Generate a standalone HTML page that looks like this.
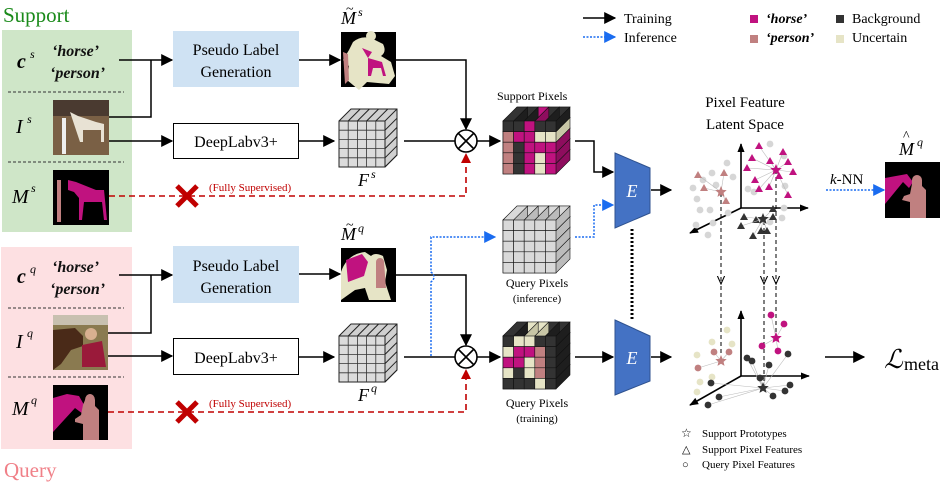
<!DOCTYPE html>
<html><head><meta charset="utf-8">
<style>
html,body{margin:0;padding:0;background:#fff;}
svg{display:block;font-family:"Liberation Serif",serif;}
</style></head>
<body>
<svg id="s" width="951" height="484" viewBox="0 0 951 484" xmlns="http://www.w3.org/2000/svg">
<defs>
<marker id="ah" viewBox="0 0 10 10" refX="9" refY="5" markerWidth="7" markerHeight="7" orient="auto" markerUnits="userSpaceOnUse"><path d="M0,0 L10,5 L0,10z" fill="#000"/></marker>
<marker id="ah" viewBox="0 0 10 10" refX="9" refY="5" markerWidth="7" markerHeight="7" orient="auto"><path d="M0,0 L10,5 L0,10z" fill="#000"/></marker>
<marker id="ahk" viewBox="0 0 10 10" refX="9" refY="5" markerWidth="12" markerHeight="12" orient="auto" markerUnits="userSpaceOnUse"><path d="M0,0 L10,5 L0,10z" fill="#000"/></marker>
<marker id="ahb" viewBox="0 0 10 10" refX="9" refY="5" markerWidth="12" markerHeight="12" orient="auto" markerUnits="userSpaceOnUse"><path d="M0,0 L10,5 L0,10z" fill="#1a6cf0"/></marker>
<marker id="ahr" viewBox="0 0 10 10" refX="9" refY="5" markerWidth="10" markerHeight="10" orient="auto" markerUnits="userSpaceOnUse"><path d="M0,0 L10,5 L0,10z" fill="#c00000"/></marker>
<marker id="aho" viewBox="0 0 10 10" refX="9" refY="5" markerWidth="9" markerHeight="9" orient="auto" markerUnits="userSpaceOnUse"><path d="M0,1 L9,5 L0,9" fill="none" stroke="#000" stroke-width="1.2"/></marker>
<marker id="ax" viewBox="0 0 10 10" refX="9" refY="5" markerWidth="9" markerHeight="9" orient="auto" markerUnits="userSpaceOnUse"><path d="M0,1 L10,5 L0,9z" fill="#000"/></marker>
</defs>

<!-- Panels -->
<text x="3" y="22" font-size="21" fill="#1a8a1a">Support</text>
<rect x="2" y="30" width="130" height="202" fill="#cfe6c8"/>
<rect x="1" y="247" width="131" height="202" fill="#fde0e2"/>
<text x="4" y="477" font-size="21" fill="#f08088">Query</text>

<!-- Support panel content -->
<text x="17" y="68" font-size="20" font-weight="bold" font-style="italic">c</text><text x="30" y="58" font-size="12" font-style="italic">s</text>
<text x="52" y="56" font-size="16" font-weight="bold" font-style="italic" fill="#111">‘horse’</text>
<text x="50" y="78" font-size="16" font-weight="bold" font-style="italic" fill="#111">‘person’</text>
<line x1="8" y1="92" x2="124" y2="92" stroke="#333" stroke-dasharray="3,2"/>
<text x="16" y="133" font-size="20" font-style="italic">I</text><text x="27" y="123" font-size="12" font-style="italic">s</text>
<rect x="53" y="100" width="56" height="55" fill="#7a6045"/>
<rect x="53" y="100" width="56" height="16" fill="#4a3a30"/>
<path d="M62,118 h4 v36 h-4z" fill="#eee"/>
<path d="M70,112 l8,4 l18,6 l8,2 v18 h-3 v-12 h-18 v12 h-3z" fill="#e8e2d4"/>
<line x1="8" y1="162" x2="124" y2="162" stroke="#333" stroke-dasharray="3,2"/>
<text x="12" y="203" font-size="20" font-style="italic">M</text><text x="31" y="192" font-size="12" font-style="italic">s</text>
<rect x="53" y="170" width="56" height="55" fill="#000"/>
<rect x="57" y="180" width="4" height="42" fill="#c08080"/>
<path d="M68,180 l8,2 l20,8 l8,0 l3,30 h-3 l-2,-18 h-18 l-2,18 h-3 l0,-22 l-5,-6 l-6,-2z" fill="#c0127f"/>

<!-- Query panel content -->
<text x="17" y="283" font-size="20" font-weight="bold" font-style="italic">c</text><text x="30" y="273" font-size="12" font-style="italic">q</text>
<text x="52" y="272" font-size="16" font-weight="bold" font-style="italic" fill="#111">‘horse’</text>
<text x="50" y="294" font-size="16" font-weight="bold" font-style="italic" fill="#111">‘person’</text>
<line x1="8" y1="308" x2="124" y2="308" stroke="#333" stroke-dasharray="3,2"/>
<text x="16" y="348" font-size="20" font-style="italic">I</text><text x="27" y="337" font-size="12" font-style="italic">q</text>
<rect x="53" y="315" width="55" height="55" fill="#8a7a50"/>
<rect x="53" y="315" width="55" height="10" fill="#c8c0b0"/>
<path d="M53,330 l22,-2 l8,8 v10 l-12,4 l-10,14 l-8,6z" fill="#4a2a18"/>
<path d="M85,334 a6,6 0 1 1 12,0 a6,6 0 1 1 -12,0z" fill="#d8b090"/>
<path d="M82,345 l20,-4 l4,26 h-24z" fill="#9a1a3a"/>
<line x1="8" y1="377" x2="124" y2="377" stroke="#333" stroke-dasharray="3,2"/>
<text x="12" y="415" font-size="20" font-style="italic">M</text><text x="31" y="404" font-size="12" font-style="italic">q</text>
<rect x="53" y="385" width="55" height="55" fill="#000"/>
<path d="M53,398 l14,-4 l12,2 l8,14 l-4,4 l-8,-6 l-22,24z" fill="#c0127f"/>
<path d="M85,400 a5,6 0 1 1 10,0 l0,6 l4,4 v30 h-16 v-16 l-8,-2 l0,-3 l6,-4 l2,-10z" fill="#c08080"/>

<!-- Boxes -->
<rect x="173" y="31" width="126" height="56" fill="#cfe2f3"/>
<text x="236" y="55" font-size="16" text-anchor="middle">Pseudo Label</text>
<text x="236" y="77" font-size="16" text-anchor="middle">Generation</text>
<rect x="173.5" y="123.5" width="125" height="35" fill="#fff" stroke="#000"/>
<text x="236" y="147" font-size="16" text-anchor="middle">DeepLabv3+</text>
<rect x="173" y="246" width="126" height="57" fill="#cfe2f3"/>
<text x="236" y="271" font-size="16" text-anchor="middle">Pseudo Label</text>
<text x="236" y="293" font-size="16" text-anchor="middle">Generation</text>
<rect x="173.5" y="338.5" width="125" height="36" fill="#fff" stroke="#000"/>
<text x="236" y="363" font-size="16" text-anchor="middle">DeepLabv3+</text>

<!-- Support arrows -->
<g stroke="#000" stroke-width="1.5" fill="none">
<path d="M119,60 H172" marker-end="url(#ahk)"/>
<path d="M109,117 H151 V60"/>
<path d="M109,141 H172" marker-end="url(#ahk)"/>
<path d="M299,60 H340" marker-end="url(#ahk)"/>
<path d="M299,141 H334" marker-end="url(#ahk)"/>
<path d="M396,60 H466 V129" marker-end="url(#ahk)"/>
<path d="M404,141 H455"/>
<path d="M477,141 H500" marker-end="url(#ahk)"/>
<path d="M119,275 H172" marker-end="url(#ahk)"/>
<path d="M108,333 H151 V275"/>
<path d="M108,356 H172" marker-end="url(#ahk)"/>
<path d="M299,274 H340" marker-end="url(#ahk)"/>
<path d="M299,357 H334" marker-end="url(#ahk)"/>
<path d="M396,275 H466 V345" marker-end="url(#ahk)"/>
<path d="M404,357 H455"/>
<path d="M477,357 H500" marker-end="url(#ahk)"/>
<path d="M575,141 H594 V172 H613" marker-end="url(#ahk)"/>
<path d="M575,357 H613" marker-end="url(#ahk)"/>
<path d="M651,190 H671" marker-end="url(#ahk)"/>
<path d="M651,357 H671" marker-end="url(#ahk)"/>
<path d="M825,357 H864" marker-end="url(#ahk)"/>
</g>
<!-- otimes -->
<g stroke="#000" stroke-width="1.6" fill="#fff">
<circle cx="466" cy="141" r="11"/><circle cx="466" cy="357" r="11"/>
<path d="M458,133 L474,149 M474,133 L458,149 M458,349 L474,365 M474,349 L458,365"/>
</g>
<!-- red dashed -->
<g stroke="#c00000" stroke-width="1.6" fill="none" stroke-dasharray="6,4">
<path d="M109,196 H466 V154" marker-end="url(#ahr)"/>
<path d="M108,412 H466 V370" marker-end="url(#ahr)"/>
</g>
<g stroke="#c00000" stroke-width="5">
<path d="M177,186 L197,206 M197,186 L177,206"/>
<path d="M177,402 L197,422 M197,402 L177,422"/>
</g>
<text x="209" y="191" font-size="11" fill="#c00000">(Fully Supervised)</text>
<text x="209" y="407" font-size="11" fill="#c00000">(Fully Supervised)</text>

<!-- blue dotted -->
<g stroke="#1a6cf0" stroke-width="1.5" fill="none" stroke-dasharray="2,1.5">
<path d="M431,356 V282 Q437,277 431,272 V237 H495" marker-end="url(#ahb)"/>
<path d="M575,237 H594 V205 H613" marker-end="url(#ahb)"/>
<path d="M826,190 H884" marker-end="url(#ahb)"/>
<path d="M583,37 H615" marker-end="url(#ahb)"/>
</g>
<path d="M583,18 H615" stroke="#000" stroke-width="1.5" marker-end="url(#ahk)"/>
<text x="624" y="23" font-size="14">Training</text>
<text x="624" y="42" font-size="14">Inference</text>
<rect x="750" y="15" width="8" height="8" fill="#c0127f"/>
<text x="766" y="23" font-size="14" font-style="italic" font-weight="bold">‘horse’</text>
<rect x="750" y="35" width="8" height="8" fill="#c08080"/>
<text x="766" y="42" font-size="14" font-style="italic" font-weight="bold">‘person’</text>
<rect x="836" y="15" width="8" height="8" fill="#333"/>
<text x="852" y="23" font-size="14">Background</text>
<rect x="836" y="35" width="8" height="8" fill="#e6e4c6"/>
<text x="852" y="42" font-size="14">Uncertain</text>

<!-- mask images -->
<rect x="341" y="32" width="55" height="55" fill="#000"/>
<path d="M353,42 q10,-8 22,-2 l8,4 q4,8 -2,12 l10,6 l4,14 l-6,8 l-22,-2 l-8,8 l-12,-10 l2,-14 l-6,-6 l6,-10z" fill="#e6e4c6"/>
<path d="M366,36 a5,5 0 1 1 10,0 a5,5 0 1 1 -10,0z" fill="#e6e4c6"/>
<path d="M343,52 l5,2 l1,26 l-4,4z" fill="#c08080"/>
<path d="M362,48 l10,4 l-4,6z M368,58 l14,4 l4,14 h-3 l-2,-8 h-8 l-2,8 h-3z" fill="#c0127f"/>
<rect x="341" y="248" width="55" height="54" fill="#000"/>
<path d="M341,272 q6,-18 24,-20 l6,4 q4,-4 12,0 l4,14 l-2,12 l6,18 h-22 l-4,-12 l-10,2 l-14,10z" fill="#e6e4c6"/>
<path d="M346,260 l16,-6 l6,8 l-4,14 l-16,6z" fill="#c0127f"/>
<path d="M376,262 a4,4 0 1 1 8,0 l2,26 h-10z" fill="#c08080"/>
<rect x="885" y="162" width="55" height="56" fill="#000"/>
<path d="M885,178 l22,-4 l6,8 l-4,6 l-6,-6 l-18,22z" fill="#c0127f"/>
<path d="M912,180 a5,5 0 1 1 10,0 l0,6 l4,4 v28 h-16 v-16 l-8,-2 l2,-4 l6,-2 l2,-10z" fill="#c08080"/>

<!-- labels -->
<text x="341" y="24" font-size="18" font-style="italic">M</text><text x="358" y="16" font-size="12" font-style="italic">s</text><text x="346" y="13" font-size="14">~</text>
<text x="341" y="240" font-size="18" font-style="italic">M</text><text x="358" y="232" font-size="12" font-style="italic">q</text><text x="346" y="229" font-size="14">~</text>
<text x="358" y="186" font-size="18" font-style="italic">F</text><text x="371" y="178" font-size="12" font-style="italic">s</text>
<text x="358" y="401" font-size="18" font-style="italic">F</text><text x="371" y="392" font-size="12" font-style="italic">q</text>
<text x="899" y="155" font-size="18" font-style="italic">M</text><text x="917" y="146" font-size="12" font-style="italic">q</text><text x="903" y="140" font-size="14">^</text>
<text x="830" y="184" font-size="15"><tspan font-style="italic">k</tspan>-NN</text>
<text x="497" y="100" font-size="12">Support Pixels</text>
<text x="537" y="287" font-size="12" text-anchor="middle">Query Pixels</text>
<text x="537" y="302" font-size="11" text-anchor="middle">(inference)</text>
<text x="537" y="407" font-size="12" text-anchor="middle">Query Pixels</text>
<text x="537" y="422" font-size="11" text-anchor="middle">(training)</text>
<text x="745" y="107" font-size="15" text-anchor="middle">Pixel Feature</text>
<text x="745" y="129" font-size="15" text-anchor="middle">Latent Space</text>
<text x="884" y="368" font-size="26" font-style="italic">ℒ</text><text x="904" y="370" font-size="18">meta</text>

<!-- E blocks -->
<path d="M615,153 L650,168 V213 L615,228z" fill="#4472c4" stroke="#2f528f"/>
<path d="M615,320 L650,336 V381 L615,395z" fill="#4472c4" stroke="#2f528f"/>
<text x="632" y="197" font-size="18" font-style="italic" fill="#fff" text-anchor="middle">E</text>
<text x="632" y="364" font-size="18" font-style="italic" fill="#fff" text-anchor="middle">E</text>
<line x1="632" y1="229" x2="632" y2="320" stroke="#000" stroke-width="3" stroke-dasharray="2,2"/>

<!-- axes -->
<g stroke="#000" stroke-width="1.6">
<path d="M741,208 V144" marker-end="url(#ax)"/><path d="M741,208 H808" marker-end="url(#ax)"/><path d="M741,208 L690,233" marker-end="url(#ax)"/>
<path d="M741,376 V311" marker-end="url(#ax)"/><path d="M741,376 H809" marker-end="url(#ax)"/><path d="M741,376 L690,405" marker-end="url(#ax)"/>
</g>
<g stroke="#000" stroke-width="1" stroke-dasharray="4,3" fill="none">
<path d="M721,193 V284" marker-end="url(#aho)"/><path d="M721,286 V358"/>
<path d="M764,221 V284" marker-end="url(#aho)"/><path d="M764,286 V386"/>
<path d="M776,170 V284" marker-end="url(#aho)"/><path d="M776,286 V336"/>
</g>
<g id="pts"></g>
<g id="cubes"></g>

<!-- bottom legend -->
<text x="681" y="437" font-size="12">☆</text><text x="702" y="437" font-size="11">Support Prototypes</text>
<text x="682" y="453" font-size="11">△</text><text x="702" y="453" font-size="11">Support Pixel Features</text>
<text x="682" y="468" font-size="11">○</text><text x="702" y="468" font-size="11">Query Pixel Features</text>
</svg>
<script>
var NS="http://www.w3.org/2000/svg";
function el(p,t,a){var e=document.createElementNS(NS,t);for(var k in a)e.setAttribute(k,a[k]);p.appendChild(e);return e;}
var C={b:"#333333",h:"#c0127f",p:"#c08080",u:"#e6e4c6",g:"#d9d9d9"};
var D={b:"#1e1e1e",h:"#8e0d5e",p:"#9a6060",u:"#c8c6a6",g:"#bbbbbb"};
var cg=document.getElementById("cubes");
function cube(x0,y0,rows,cs,d){
  // extrusions
  for(var r=rows.length-1;r>=0;r--)for(var c=rows[r].length-1;c>=0;c--){
    var k=rows[r][c],x=x0+c*cs,y=y0+r*cs;
    el(cg,"polygon",{points:[x,y,x+d,y-d,x+cs+d,y-d,x+cs+d,y+cs-d,x+cs,y+cs,x,y+cs].join(","),fill:D[k],stroke:"#111","stroke-width":0.6});
    el(cg,"polygon",{points:[x,y,x+d,y-d,x+cs+d,y-d,x+cs,y].join(","),fill:C[k],stroke:"#111","stroke-width":0.6});
  }
  for(var r=0;r<rows.length;r++)for(var c=0;c<rows[r].length;c++){
    var k=rows[r][c];el(cg,"rect",{x:x0+c*cs,y:y0+r*cs,width:cs,height:cs,fill:C[k],stroke:"#111","stroke-width":0.6});
  }
}
function flat(x0,y0,cs,d){
  el(cg,"polygon",{points:[x0,y0,x0+d,y0-d,x0+5*cs+d,y0-d,x0+5*cs+d,y0+5*cs-d,x0+5*cs,y0+5*cs,x0,y0+5*cs].join(","),fill:"#d0d0d0",stroke:"#222"});
  for(var i=1;i<=5;i++){el(cg,"line",{x1:x0+i*cs,y1:y0,x2:x0+i*cs+d,y2:y0-d,stroke:"#222"});el(cg,"line",{x1:x0+5*cs,y1:y0+i*cs,x2:x0+5*cs+d,y2:y0+i*cs-d,stroke:"#222"});}
  el(cg,"rect",{x:x0,y:y0,width:5*cs,height:5*cs,fill:"#dcdcdc",stroke:"#222"});
  for(var i=1;i<5;i++){el(cg,"line",{x1:x0+i*cs,y1:y0,x2:x0+i*cs,y2:y0+5*cs,stroke:"#333","stroke-width":0.8});el(cg,"line",{x1:x0,y1:y0+i*cs,x2:x0+5*cs,y2:y0+i*cs,stroke:"#333","stroke-width":0.8});}
}
flat(339,121,9.2,12);flat(339,336,9.2,12);
cube(503,121,["bbhbb","phhuu","pbhhh","pbhuh","pbhuh"],10.6,14);
cube(503,220,["ggggg","ggggg","ggggg","ggggg","ggggg"],10.6,14);
cube(503,336,["buubb","uhhpb","hhupb","ubupb","bbbub"],10.6,14);
var pg=document.getElementById("pts");
function star(x,y,r,f){var p=[];for(var i=0;i<10;i++){var a=-Math.PI/2+i*Math.PI/5,rr=i%2?r*0.45:r;p.push(x+rr*Math.cos(a),y+rr*Math.sin(a));}el(pg,"polygon",{points:p.join(","),fill:f});}
function line(a,b,c,d){el(pg,"line",{x1:a,y1:b,x2:c,y2:d,stroke:"#bbb","stroke-width":0.6});}
function tri(x,y,f){el(pg,"polygon",{points:[x,y-4,x+4,y+3,x-4,y+3].join(","),fill:f});}
function dot(x,y,f){el(pg,"circle",{cx:x,cy:y,r:3.4,fill:f});}
var G="#d6d6d6";
[[727,163],[712,173],[733,177],[716,185],[693,188],[697,199],[710,210],[713,223],[708,235],[696,225],[703,180],[770,144],[784,156],[785,186],[748,189],[754,192],[782,218],[784,208],[770,222],[728,213],[700,210]].forEach(function(p){dot(p[0],p[1],G);});
var ps=[[698,175],[724,173],[726,201],[704,188]];ps.forEach(function(p){line(721,192,p[0],p[1]);tri(p[0],p[1],"#c08080");});
var hs=[[759,146],[752,158],[770,161],[788,162],[793,172],[747,168],[755,180],[759,189],[769,187],[788,195],[779,176],[783,152]];hs.forEach(function(p){line(776,170,p[0],p[1]);tri(p[0],p[1],"#c0127f");});
var bs=[[744,217],[756,220],[773,209],[753,236],[761,231],[767,231],[773,217],[741,226]];bs.forEach(function(p){line(763,219,p[0],p[1]);tri(p[0],p[1],"#333");});
star(721,192,6,"#c08080");star(776,170,6,"#c0127f");star(763,219,6,"#333");
[[727,330],[712,342],[732,344],[697,355],[700,382],[712,377],[697,392]].forEach(function(p){dot(p[0],p[1],"#e6e4c6");});
[[714,352],[729,352],[698,368]].forEach(function(p){line(721,361,p[0],p[1]);dot(p[0],p[1],"#c08080");});
[[771,315],[784,324],[762,346],[778,351]].forEach(function(p){line(776,338,p[0],p[1]);dot(p[0],p[1],"#c0127f");});
[[747,358],[752,361],[788,354],[769,365],[760,378],[711,383],[790,385],[785,391],[773,396],[719,397],[708,405]].forEach(function(p){line(763,388,p[0],p[1]);dot(p[0],p[1],"#333");});
star(721,361,6,"#c08080");star(776,338,6,"#c0127f");star(763,388,6,"#333");
</script>
</body></html>
